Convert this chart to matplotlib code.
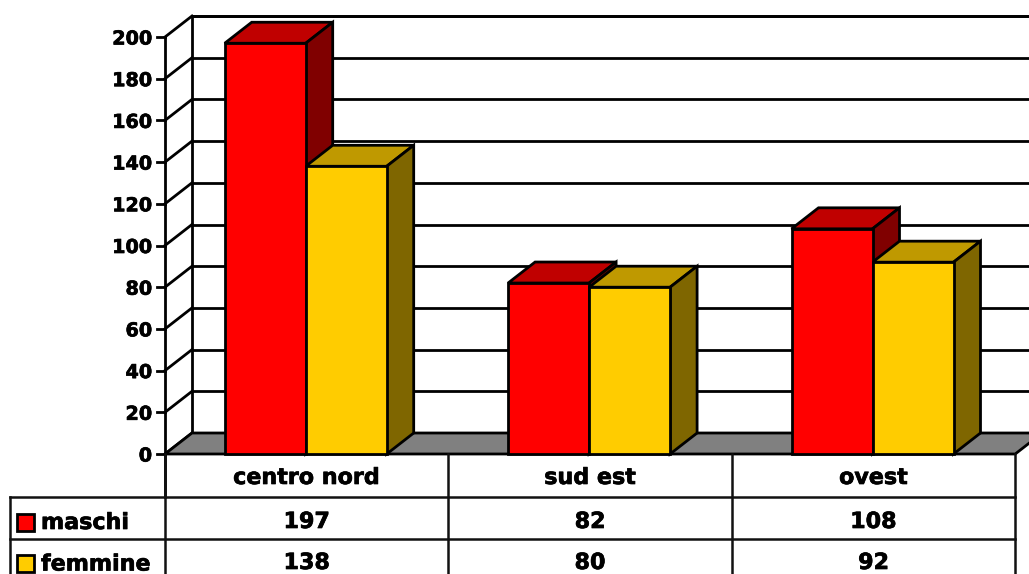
import matplotlib
matplotlib.use("Agg")
import matplotlib.pyplot as plt
import matplotlib.patheffects as pe
from matplotlib.patches import Polygon, Rectangle

categories = ["centro nord", "sud est", "ovest"]
maschi = [197, 82, 108]
femmine = [138, 80, 92]
y_ticks = list(range(0, 201, 20))

W, H = 1029, 574
# pixel layout of the plot
X0, CAT_W = 165.0, 283.4
Y0, PX_PER_UNIT = 454.0, 2.085
DX, DY = 27.0, 21.0
BAR_W = 81.0

plt.rcParams["font.family"] = ["DejaVu Sans"]
plt.rcParams["font.weight"] = "bold"
FS_TICK = 13.8
FS_TABLE = 16.0
LW = 2.0
# DejaVu bold is a bit lighter than the original face
HEAVY = [pe.withStroke(linewidth=0.5, foreground="black")]

fig = plt.figure(figsize=(W / 100, H / 100), dpi=100)
ax = fig.add_axes([0, 0, 1, 1])
ax.set_xlim(-X0 / CAT_W - 0.5, (W - X0) / CAT_W - 0.5)
ax.set_ylim((Y0 - H) / PX_PER_UNIT, Y0 / PX_PER_UNIT)
ax.axis("off")

dx = DX / CAT_W
dy = DY / PX_PER_UNIT
bw = BAR_W / CAT_W
shift = -1.0 / CAT_W
left = -0.5
right = len(categories) - 0.5
col = "black"


def px_x(p):
    return (p - X0) / CAT_W - 0.5


def px_y(p):
    return (Y0 - p) / PX_PER_UNIT


def label(x, y, s, fs, ha="center"):
    ax.text(x, y, s, ha=ha, va="center_baseline", fontsize=fs, color=col, path_effects=HEAVY, zorder=6)


def draw_bar(x, v, front, top, side):
    ax.bar(x, v, width=bw, align="edge", color=front, edgecolor=col, linewidth=LW, zorder=5)
    ax.add_patch(Polygon([(x, v), (x + dx, v + dy), (x + bw + dx, v + dy), (x + bw, v)],
                         facecolor=top, edgecolor=col, lw=LW, zorder=4))
    ax.add_patch(Polygon([(x + bw, 0), (x + bw + dx, dy), (x + bw + dx, v + dy), (x + bw, v)],
                         facecolor=side, edgecolor=col, lw=LW, zorder=4))


# floor
ax.add_patch(Polygon([(left, 0), (left + dx, dy), (right + dx, dy), (right, 0)],
                     facecolor="#808080", edgecolor=col, lw=LW, zorder=2))

# walls, gridlines, ticks
wall_top = 200 + dy
ax.plot([left + dx, left + dx], [dy, wall_top], color=col, lw=LW, zorder=1)
ax.plot([left, left], [px_y(497), 200], color=col, lw=LW, zorder=3)
ax.plot([left + dx, right + dx], [wall_top, wall_top], color=col, lw=LW, zorder=1)
for t in y_ticks:
    ax.plot([left, left + dx], [t, t + dy], color=col, lw=LW, zorder=1)
    ax.plot([px_x(157), left], [t, t], color=col, lw=LW, zorder=3)
    if t > 0:
        ax.plot([left + dx, right + dx], [t + dy, t + dy], color=col, lw=LW, zorder=1)
    label(px_x(152), t, str(t), FS_TICK, ha="right")

# bars, back to front per category
for i in range(len(categories)):
    draw_bar(i - bw + shift, maschi[i], "#ff0000", "#c00000", "#800000")
    draw_bar(i + shift, femmine[i], "#ffcc00", "#bf9900", "#7f6600")

# data table
table_lw = 1.8
table_col = "#111111"
y_rows = [px_y(497), px_y(539)]
ax.plot([px_x(10), right], [y_rows[0], y_rows[0]], color=table_col, lw=table_lw, zorder=3)
ax.plot([px_x(10), right], [y_rows[1], y_rows[1]], color=table_col, lw=table_lw, zorder=3)
ax.plot([px_x(10), px_x(10)], [y_rows[0], px_y(H)], color=table_col, lw=table_lw, zorder=3)
for i in range(len(categories) + 1):
    ax.plot([i - 0.5, i - 0.5], [0, px_y(H)], color=table_col, lw=table_lw, zorder=3)

for i, name in enumerate(categories):
    label(i, px_y(476), name, FS_TABLE)
    label(i, px_y(520), str(maschi[i]), FS_TABLE)
    label(i, px_y(561), str(femmine[i]), FS_TABLE)

# legend keys inside the table
for name, c, y_top in [("maschi", "#ff0000", 513.5), ("femmine", "#ffcc00", 555)]:
    ax.add_patch(Rectangle((px_x(17), px_y(y_top + 17)), 17 / CAT_W, 17 / PX_PER_UNIT,
                           facecolor=c, edgecolor=col, lw=LW, zorder=3))
    label(px_x(41), px_y(y_top + 7.5), name, FS_TABLE, ha="left")

fig.savefig("out.png", dpi=100, facecolor="white")
